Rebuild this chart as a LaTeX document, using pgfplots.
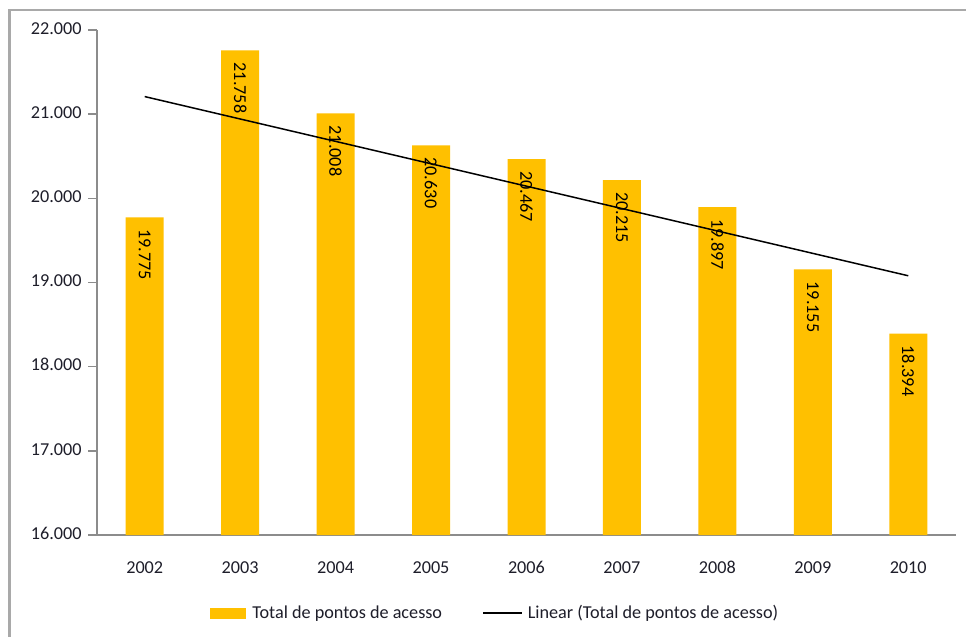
\documentclass[border=0pt]{standalone}
\usepackage{pgfplots}
\pgfplotsset{compat=1.18}
\usepackage{fontspec}
\setmainfont{Carlito}

\definecolor{barcol}{HTML}{FFC000}
\definecolor{framecol}{HTML}{A9A9A9}
\definecolor{axiscol}{HTML}{8C8C8C}
\definecolor{txtcol}{HTML}{1E1E2A}

\begin{document}
\begin{tikzpicture}[x=1bp,y=1bp]
  % canvas: 966 x 637, origin at the top-left corner
  \useasboundingbox (0,0) rectangle (966,-637);
  \fill[white] (0,0) rectangle (966,-637);
  \draw[framecol, line width=2.5bp] (9.5,-637) -- (9.5,-10) -- (966,-10);

  \begin{axis}[
    at={(97bp,-535bp)}, anchor=south west,
    scale only axis,
    width=859bp, height=505bp,
    xmin=2001.5, xmax=2010.5,
    ymin=16000, ymax=22000,
    ytick={16000,17000,...,22000},
    xtick={2002,...,2010},
    minor xtick={2001.5,2002.5,...,2010.5},
    scaled y ticks=false,
    axis x line*=bottom, axis y line*=left,
    axis line style={axiscol, line width=1.6bp},
    every tick/.style={axiscol, line width=1.4bp},
    xtick style={draw=none},
    tick align=outside,
    major tick length=9bp,
    minor tick length=7bp,
    typeset ticklabels with strut,
    /pgf/number format/.cd, 1000 sep={.}, /pgfplots/.cd,
    /pgf/number format/assume math mode=true,
    tick label style={font=\fontsize{18.2bp}{21bp}\selectfont, text=txtcol},
    yticklabel style={xshift=-3bp},
    xticklabel style={/pgf/number format/1000 sep={}, yshift=-11bp},
    ybar, bar width=38bp,
    nodes near coords,
    every node near coord/.style={
      rotate=-90, anchor=west, inner xsep=12bp, inner ysep=0bp,
      font=\fontsize{18.2bp}{21bp}\selectfont, text=black},
    legend style={
      at={(axis description cs:0.1317,-0.1545)}, anchor=west,
      draw=none, fill=none, inner sep=0pt,
      legend columns=2,
      font=\fontsize{18.2bp}{21bp}\selectfont, text=txtcol,
      /tikz/every even column/.append style={column sep=38bp},
      legend cell align=left},
  ]
    \addplot[fill=barcol, draw=none,
      legend image code/.code={%
        \fill[barcol] (0bp,-5.5bp) rectangle (36bp,5.5bp);
        \path (40bp,0bp);}]
      coordinates {
        (2002,19775) (2003,21758) (2004,21008) (2005,20630) (2006,20467)
        (2007,20215) (2008,19897) (2009,19155) (2010,18394)};
    \addlegendentry{Total de pontos de acesso}

    % least-squares trend of the nine yearly totals
    \addplot[sharp plot, black, line width=1.5bp, nodes near coords={}, mark=none,
      legend image code/.code={%
        \draw[black, line width=1.8bp] (0bp,0bp) -- (39bp,0bp);
        \path (42bp,0bp);}]
      coordinates {(2002,21209) (2010,19080)};
    \addlegendentry{Linear (Total de pontos de acesso)}
  \end{axis}
\end{tikzpicture}
\end{document}
